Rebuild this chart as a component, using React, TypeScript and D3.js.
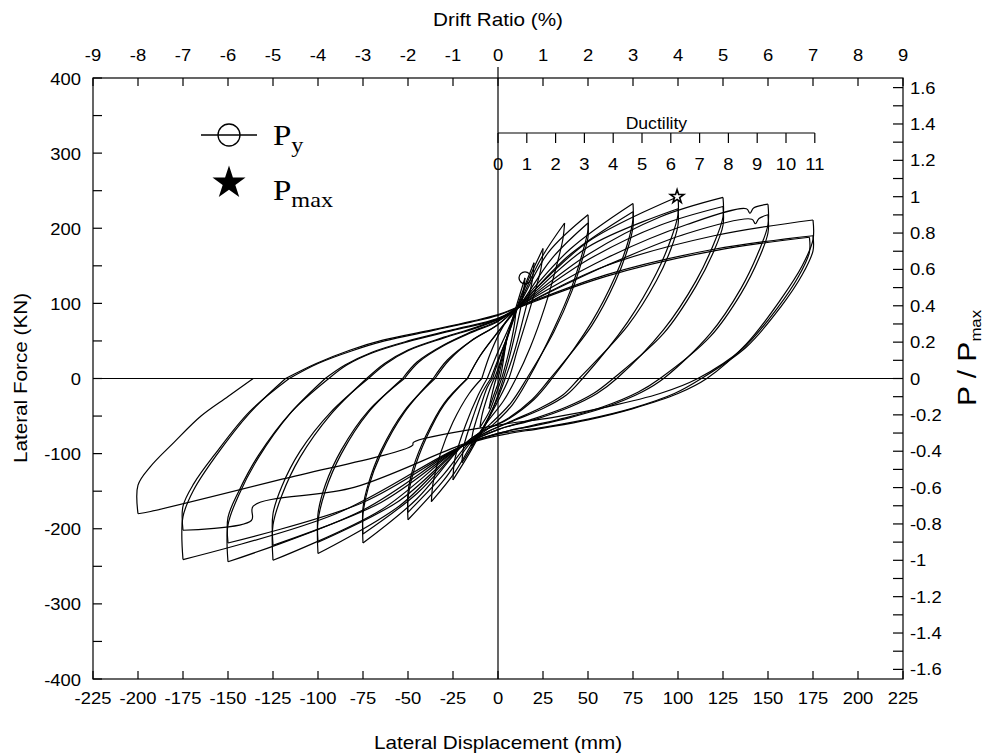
import React, { useEffect, useRef } from 'react';
import * as d3 from 'd3';

type Pt = [number, number];

// hysteresis cycles, [lateral displacement (mm), lateral force (kN)]
const cycle01: Pt[] = [[0, 0], [3, 30], [5, 55], [4, 40], [2, 10], [1, 0], [-2, -20], [-5, -40], [-4, -28], [-2, -8], [-1, 0]];
const cycle02: Pt[] = [[-1, 0], [2, 25], [6, 60], [10, 90], [9, 70], [6, 35], [3, 8], [2, 0], [-1, -20], [-5, -45], [-10, -65], [-9, -50], [-6, -25], [-3, -5], [-2, 0]];
const cycle03: Pt[] = [[-2, 0], [1, 20], [5, 55], [10, 95], [15, 134], [14, 112], [10, 65], [6, 25], [3, 0], [0, -22], [-5, -52], [-10, -75], [-15, -90], [-14, -72], [-10, -40], [-6, -12], [-3, 0]];
const cycle04: Pt[] = [[-3, 0], [0, 22], [5, 55], [12, 105], [20, 154], [19, 130], [14, 80], [9, 35], [4, 0], [0, -25], [-6, -55], [-13, -85], [-20, -112], [-19, -90], [-14, -52], [-9, -20], [-4, 0]];
const cycle05: Pt[] = [[-4, 0], [0, 25], [6, 60], [14, 115], [25, 173], [24, 148], [18, 95], [11, 40], [6, 0], [0, -30], [-8, -65], [-16, -100], [-25, -135], [-24, -108], [-18, -62], [-11, -22], [-6, 0]];
const cycle06: Pt[] = [[-6, 0], [-1, 30], [5, 62], [12, 100], [24, 160], [37, 207], [36, 185], [32, 145], [26, 95], [18, 42], [10, 0], [3, -30], [-6, -58], [-14, -85], [-24, -125], [-37, -164], [-36, -138], [-32, -100], [-25, -58], [-16, -20], [-9, 0]];
const cycle07: Pt[] = [[-9, 0], [-4, 35], [3, 70], [12, 100], [28, 168], [50, 218], [50, 198], [47, 168], [41, 122], [31, 66], [17, 0], [8, -35], [-3, -62], [-15, -85], [-30, -135], [-50, -188], [-50, -160], [-47, -125], [-40, -80], [-30, -35], [-17, 0]];
const cycle08: Pt[] = [[-17, 0], [-10, 30], [0, 62], [12, 97], [30, 160], [50, 207], [50, 188], [47, 160], [41, 116], [31, 62], [16, 0], [7, -33], [-4, -60], [-16, -85], [-31, -130], [-50, -178], [-50, -152], [-47, -118], [-40, -76], [-30, -33], [-17, 0]];
const cycle09: Pt[] = [[-17, 0], [-10, 30], [0, 62], [12, 98], [40, 172], [75, 233], [75, 212], [72, 180], [65, 135], [52, 75], [30, 0], [20, -28], [5, -55], [-10, -72], [-20, -90], [-45, -160], [-75, -219], [-75, -180], [-72, -145], [-65, -100], [-52, -45], [-36, 0]];
const cycle10: Pt[] = [[-36, 0], [-28, 25], [-15, 50], [0, 72], [12, 97], [40, 165], [75, 222], [75, 202], [72, 172], [65, 128], [52, 70], [29, 0], [19, -28], [5, -54], [-10, -72], [-20, -90], [-45, -153], [-75, -207], [-75, -172], [-72, -140], [-65, -96], [-52, -43], [-35, 0]];
const cycle11: Pt[] = [[-35, 0], [-27, 25], [-15, 50], [0, 72], [12, 98], [50, 182], [100, 242], [100, 218], [96, 185], [88, 140], [72, 75], [47, 0], [38, -22], [25, -40], [10, -55], [-5, -70], [-20, -90], [-55, -170], [-100, -233], [-100, -190], [-96, -150], [-87, -100], [-72, -45], [-53, 0]];
const cycle12: Pt[] = [[-53, 0], [-45, 22], [-30, 45], [-15, 62], [0, 77], [12, 97], [50, 175], [100, 226], [100, 204], [96, 172], [88, 130], [72, 70], [45, 0], [36, -22], [23, -40], [9, -55], [-5, -70], [-20, -90], [-55, -163], [-100, -218], [-100, -180], [-96, -142], [-87, -95], [-72, -43], [-52, 0]];
const cycle13: Pt[] = [[-52, 0], [-44, 22], [-30, 44], [-15, 61], [0, 76], [12, 97], [50, 165], [90, 215], [125, 241], [125, 215], [120, 180], [110, 130], [92, 65], [66, 0], [55, -20], [40, -38], [20, -55], [0, -68], [-20, -90], [-65, -175], [-125, -242], [-125, -195], [-120, -155], [-110, -105], [-93, -48], [-73, 0]];
const cycle14: Pt[] = [[-73, 0], [-63, 20], [-50, 38], [-30, 55], [-10, 70], [5, 85], [12, 96], [50, 158], [90, 204], [125, 229], [125, 204], [120, 170], [110, 123], [92, 60], [64, 0], [53, -20], [38, -38], [18, -55], [0, -68], [-20, -90], [-65, -165], [-125, -222], [-125, -180], [-120, -143], [-110, -97], [-93, -45], [-72, 0]];
const cycle15: Pt[] = [[-72, 0], [-62, 20], [-50, 37], [-30, 54], [-10, 69], [5, 84], [12, 96], [60, 160], [105, 205], [138, 226], [140, 220], [142, 227], [150, 232], [150, 205], [145, 170], [135, 120], [118, 60], [92, 0], [80, -18], [60, -38], [40, -52], [20, -63], [0, -73], [-20, -90], [-75, -175], [-150, -244], [-150, -195], [-144, -155], [-133, -105], [-116, -48], [-96, 0]];
const cycle16: Pt[] = [[-96, 0], [-85, 18], [-70, 35], [-50, 50], [-25, 65], [0, 80], [12, 95], [60, 150], [105, 193], [141, 212], [143, 206], [145, 213], [150, 218], [150, 194], [145, 160], [135, 113], [118, 56], [90, 0], [78, -18], [58, -38], [38, -52], [18, -63], [0, -73], [-20, -90], [-75, -165], [-150, -219], [-150, -185], [-144, -150], [-133, -102], [-115, -45], [-94, 0]];
const cycle17: Pt[] = [[-94, 0], [-84, 18], [-70, 34], [-50, 49], [-25, 64], [0, 79], [12, 95], [60, 150], [120, 190], [175, 211], [175, 185], [169, 150], [157, 105], [138, 46], [116, 0], [100, -20], [75, -40], [50, -55], [25, -66], [0, -76], [-20, -90], [-90, -180], [-175, -241], [-175, -184], [-169, -148], [-157, -104], [-138, -46], [-118, 0]];
const cycle18: Pt[] = [[-118, 0], [-101, 20], [-82, 38], [-64, 51], [-36, 65], [-15, 76], [0, 85], [12, 96], [60, 138], [120, 172], [175, 190], [175, 170], [169, 138], [157, 95], [138, 42], [113, 0], [98, -20], [74, -40], [50, -54], [25, -65], [0, -74], [-20, -88], [-80, -145], [-136, -170], [-137, -189], [-175, -202], [-175, -170], [-169, -140], [-157, -100], [-138, -44], [-116, 0]];
const cycle19: Pt[] = [[-116, 0], [-100, 20], [-81, 37], [-63, 50], [-36, 64], [-15, 75], [0, 84], [12, 95], [60, 136], [120, 170], [173, 188], [173, 168], [167, 136], [155, 93], [136, 40], [111, 0], [90, -20], [60, -38], [30, -52], [0, -62], [-47, -85], [-47.5, -89], [-120, -134], [-193, -177], [-200, -180], [-200, -142], [-193, -117], [-180, -85], [-165, -50], [-150, -24], [-136, 0]];

const cycles = [cycle01, cycle02, cycle03, cycle04, cycle05, cycle06, cycle07, cycle08, cycle09, cycle10,
  cycle11, cycle12, cycle13, cycle14, cycle15, cycle16, cycle17, cycle18, cycle19];

const yieldPoint: Pt = [15, 134];
const maxPoint: Pt = [99.5, 242];
const pMax = 242;     // kN, for the P / Pmax axis
const yieldDisp = 16; // mm, one unit of ductility

const dispTicks = [-225, -200, -175, -150, -125, -100, -75, -50, -25, 0, 25, 50, 75, 100, 125, 150, 175, 200, 225];
const forceTicks = [-400, -300, -200, -100, 0, 100, 200, 300, 400];
const forceMinor = [-350, -250, -150, -50, 50, 150, 250, 350];
const driftTicks = [-9, -8, -7, -6, -5, -4, -3, -2, -1, 0, 1, 2, 3, 4, 5, 6, 7, 8, 9];
const ratioTicks = [-1.6, -1.4, -1.2, -1, -0.8, -0.6, -0.4, -0.2, 0, 0.2, 0.4, 0.6, 0.8, 1, 1.2, 1.4, 1.6];
const ratioMinor = [-1.5, -1.3, -1.1, -0.9, -0.7, -0.5, -0.3, -0.1, 0.1, 0.3, 0.5, 0.7, 0.9, 1.1, 1.3, 1.5];
const ductTicks = [0, 1, 2, 3, 4, 5, 6, 7, 8, 9, 10, 11];

const sans = '"Liberation Sans", Arial, sans-serif';
const serif = '"Liberation Serif", "Times New Roman", serif';

// cut a cycle at its displacement peaks so the corners stay sharp
const branches = (pts: Pt[]) => {
  const iMax = d3.maxIndex(pts, d => d[0]);
  const iMin = d3.minIndex(pts, d => d[0]);
  return [pts.slice(0, iMax + 1), pts.slice(iMax, iMin + 1), pts.slice(iMin)];
};

const App = () => {
  const svgRef = useRef<SVGSVGElement>(null);

  useEffect(() => {
    const left = 93, right = 903, top = 78, bottom = 679;
    const svg = d3.select(svgRef.current);
    svg.selectAll('*').remove();

    const x = d3.scaleLinear().domain([-225, 225]).range([left, right]);
    const y = d3.scaleLinear().domain([-400, 400]).range([bottom, top]);
    const xDrift = d3.scaleLinear().domain([-9, 9]).range([left, right]);
    const yRatio = d3.scaleLinear().domain([-400 / pMax, 400 / pMax]).range([bottom, top]);
    const xDuct = d3.scaleLinear().domain([0, 11]).range([x(0), x(11 * yieldDisp)]);

    const fmt = (v: number) => String(+v.toFixed(1));
    const label = (tx: number, ty: number, s: string, anchor: string, size = 16, sx = 1.15) =>
      svg.append('text')
        .attr('transform', `translate(${tx},${ty}) scale(${sx},1)`)
        .attr('text-anchor', anchor)
        .attr('font-family', sans)
        .attr('font-size', size)
        .attr('fill', '#000')
        .text(s);

    const axes = svg.append('g').attr('stroke', '#000').attr('stroke-width', 1.2).attr('fill', 'none');

    // zero lines
    axes.append('line').attr('x1', left).attr('x2', right).attr('y1', y(0)).attr('y2', y(0));
    axes.append('line').attr('x1', x(0)).attr('x2', x(0)).attr('y1', top - 11).attr('y2', bottom);

    // bottom axis
    dispTicks.forEach(t => {
      axes.append('line').attr('x1', x(t)).attr('x2', x(t)).attr('y1', bottom).attr('y2', bottom - 8);
      label(x(t), 704, String(t), 'middle');
    });
    // top axis
    driftTicks.forEach(t => {
      axes.append('line').attr('x1', xDrift(t)).attr('x2', xDrift(t)).attr('y1', top).attr('y2', top + 8);
      label(xDrift(t), 61, String(t), 'middle');
    });
    // left axis
    forceTicks.forEach(t => {
      axes.append('line').attr('x1', left).attr('x2', left + 9).attr('y1', y(t)).attr('y2', y(t));
      label(81, y(t) + 6.5, String(t), 'end');
    });
    forceMinor.forEach(t => {
      axes.append('line').attr('x1', left).attr('x2', left + 9).attr('y1', y(t)).attr('y2', y(t));
    });
    // right axis
    ratioTicks.forEach(t => {
      axes.append('line').attr('x1', right).attr('x2', right - 10).attr('y1', yRatio(t)).attr('y2', yRatio(t));
      label(910, yRatio(t) + 6, fmt(t), 'start');
    });
    ratioMinor.forEach(t => {
      axes.append('line').attr('x1', right).attr('x2', right - 10).attr('y1', yRatio(t)).attr('y2', yRatio(t));
    });

    // ductility axis
    axes.append('line').attr('x1', xDuct(0)).attr('x2', xDuct(11)).attr('y1', 133).attr('y2', 133);
    ductTicks.forEach(t => {
      axes.append('line').attr('x1', xDuct(t)).attr('x2', xDuct(t)).attr('y1', 133).attr('y2', 143);
      label(xDuct(t), 170, String(t), 'middle');
    });
    label(xDuct(5.5), 129, 'Ductility', 'middle', 16, 1.1);

    // frame
    axes.append('rect').attr('x', left).attr('y', top).attr('width', right - left).attr('height', bottom - top);

    // hysteresis loops
    const line = d3.line<Pt>()
      .x(d => x(d[0]))
      .y(d => y(d[1]))
      .curve(d3.curveCatmullRom.alpha(0.5));

    svg.append('g')
      .selectAll('path')
      .data(cycles.flatMap(branches))
      .join('path')
      .attr('d', d => line(d))
      .attr('fill', 'none')
      .attr('stroke', '#000')
      .attr('stroke-width', 1.2)
      .attr('stroke-linejoin', 'round');

    // yield and peak markers
    svg.append('circle')
      .attr('cx', x(yieldPoint[0])).attr('cy', y(yieldPoint[1])).attr('r', 6)
      .attr('fill', 'none').attr('stroke', '#000').attr('stroke-width', 1.3);
    svg.append('path')
      .attr('d', d3.symbol(d3.symbolStar).size(55)())
      .attr('transform', `translate(${x(maxPoint[0])},${y(maxPoint[1])})`)
      .attr('fill', '#fff').attr('stroke', '#000').attr('stroke-width', 1.6);

    // legend
    svg.append('line').attr('x1', 201).attr('x2', 257).attr('y1', 135).attr('y2', 135)
      .attr('stroke', '#000').attr('stroke-width', 1.3);
    svg.append('circle').attr('cx', 229).attr('cy', 135).attr('r', 11)
      .attr('fill', 'none').attr('stroke', '#000').attr('stroke-width', 1.3);
    svg.append('path')
      .attr('d', d3.symbol(d3.symbolStar).size(340)())
      .attr('transform', 'translate(229,183)')
      .attr('fill', '#000');

    const legText = (ty: number, sub: string) => {
      const t = svg.append('text')
        .attr('transform', `translate(273,${ty}) scale(1.1,1)`)
        .attr('font-family', serif)
        .attr('font-size', 30)
        .attr('fill', '#000');
      t.append('tspan').text('P');
      t.append('tspan').attr('dy', 7).attr('font-size', 22).text(sub);
    };
    legText(145, 'y');
    legText(200, 'max');

    // axis titles
    label(498, 26, 'Drift Ratio (%)', 'middle', 18);
    label(498, 749, 'Lateral Displacement (mm)', 'middle', 18);

    svg.append('text')
      .attr('transform', 'translate(27,378) rotate(-90) scale(1.15,1)')
      .attr('text-anchor', 'middle')
      .attr('font-family', sans)
      .attr('font-size', 18)
      .text('Lateral Force (KN)');

    const rt = svg.append('text')
      .attr('transform', 'translate(976,358) rotate(-90) scale(1.2,1)')
      .attr('text-anchor', 'middle')
      .attr('font-family', sans)
      .attr('font-size', 25);
    rt.append('tspan').text('P / P');
    rt.append('tspan').attr('dy', 5).attr('font-size', 14).text('max');
  }, []);

  return (
    <svg
      ref={svgRef}
      width={985}
      height={755}
      style={{ position: 'absolute', left: 0, top: 0, background: '#fff' }}
    />
  );
};

export default App;
